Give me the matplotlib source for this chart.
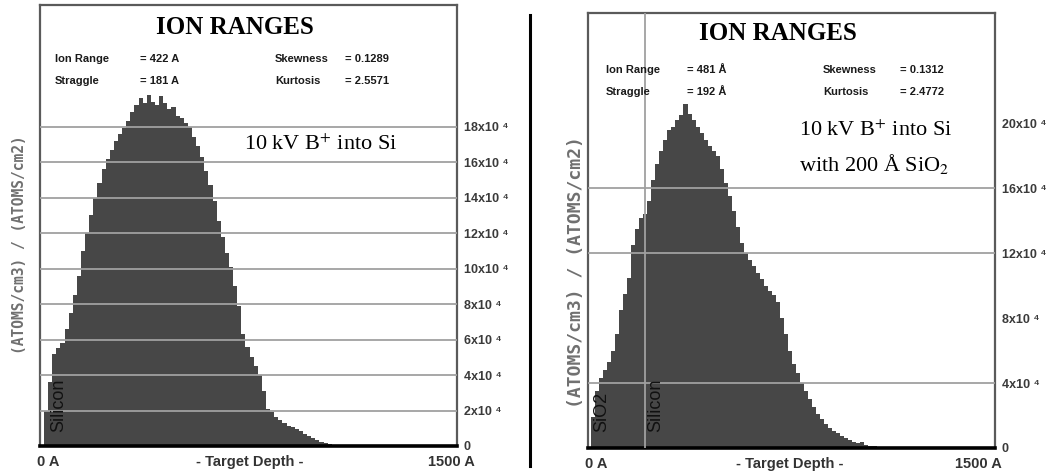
import matplotlib
matplotlib.use("Agg")
import matplotlib.pyplot as plt
import numpy as np

W, H = 1063, 471
plt.rcParams["mathtext.fontset"] = "stix"

# depth bins (Angstrom), 100 bins of 15 A each
bin_width = 15
bin_edges = np.arange(100) * bin_width

# boron in bare silicon, (atoms/cm3)/(atoms/cm2) in units of 1e4
si_profile = [
    2.0, 3.6, 5.2, 5.5, 5.8, 6.6, 7.5, 8.5, 9.6, 11.0,
    12.0, 13.0, 14.0, 14.8, 15.6, 16.2, 16.7, 17.2, 17.6, 17.9,
    18.3, 18.8, 19.2, 19.6, 19.3, 19.8, 19.4, 19.2, 19.7, 19.3,
    19.0, 19.1, 18.6, 18.5, 18.2, 18.0, 17.4, 16.9, 16.3, 15.5,
    14.7, 13.8, 12.7, 11.8, 10.9, 10.1, 9.0, 7.9, 6.3, 5.6,
    5.0, 4.5, 4.0, 3.1, 2.1, 1.9, 1.65, 1.45, 1.3, 1.15,
    1.05, 0.95, 0.85, 0.7, 0.55, 0.45, 0.35, 0.25, 0.18, 0.12,
    0.08,
] + [0.0] * 29

# boron through 200 A of oxide into silicon
oxide_profile = [
    1.9, 3.5, 4.3, 4.8, 5.3, 6.0, 7.0, 8.5, 9.5, 10.5,
    12.5, 13.5, 14.2, 14.4, 15.2, 16.5, 17.5, 18.3, 19.0, 19.6,
    19.8, 20.2, 20.5, 21.2, 20.6, 20.2, 19.8, 19.4, 19.0, 18.6,
    18.3, 18.0, 17.2, 16.3, 15.5, 14.6, 13.6, 12.6, 12.0, 11.6,
    11.2, 10.8, 10.4, 10.0, 9.7, 9.4, 9.0, 8.0, 7.0, 6.0,
    5.2, 4.6, 4.0, 3.5, 3.0, 2.5, 2.1, 1.8, 1.5, 1.25,
    1.05, 0.9, 0.75, 0.6, 0.5, 0.4, 0.3, 0.35, 0.2, 0.15,
    0.1,
] + [0.0] * 29

si_ticks = [0, 2, 4, 6, 8, 10, 12, 14, 16, 18]
si_grid = [2, 4, 6, 8, 10, 12, 14, 16, 18]
oxide_ticks = [0, 4, 8, 12, 16, 20]
oxide_grid = [4, 12, 16]
oxide_boundary = 200

si_stats = [("Ion Range", "= 422 A"), ("Straggle", "= 181 A"),
            ("Skewness", "= 0.1289"), ("Kurtosis", "= 2.5571")]
oxide_stats = [("Ion Range", "= 481 Å"), ("Straggle", "= 192 Å"),
               ("Skewness", "= 0.1312"), ("Kurtosis", "= 2.4772")]

FILL = "#474747"
FRAME = "#5a5a5a"
GRID = "#a0a0a0"
SANS = ["Liberation Sans", "DejaVu Sans"]
SERIF = ["Liberation Serif", "DejaVu Serif"]


def box(x0, y0, x1, y1):
    return [x0 / W, 1 - y1 / H, (x1 - x0) / W, (y1 - y0) / H]


def ftext(x, y, s, **kw):
    fig.text(x / W, 1 - y / H, s, **kw)


fig = plt.figure(figsize=(W / 100, H / 100), dpi=100)


def panel(rect, xlim, ylim, profile, ticks, grid):
    ax = fig.add_axes(rect)
    ax.bar(bin_edges, profile, width=bin_width, align="edge",
           color=FILL, linewidth=0, zorder=1)
    for g in grid:
        ax.axhline(g, color=GRID, lw=1.3, zorder=3)
    ax.set_xlim(*xlim)
    ax.set_ylim(*ylim)
    ax.set_xticks([])
    ax.yaxis.tick_right()
    labels = ["0"] + [f"{t}x10 ⁴" for t in ticks[1:]]
    ax.set_yticks(ticks, labels)
    ax.tick_params(axis="y", length=0, pad=5, labelsize=9,
                   labelcolor="#3a3a3a")
    for lab in ax.get_yticklabels():
        lab.set_family(SANS)
        lab.set_fontweight("bold")
    for side in ("top", "left", "right"):
        ax.spines[side].set_color(FRAME)
        ax.spines[side].set_linewidth(1.6)
    ax.spines["bottom"].set_color("black")
    ax.spines["bottom"].set_linewidth(2.6)
    return ax


ax1 = panel(box(40, 5, 457, 446), (-14.6, 1507), (0, 24.85),
            si_profile, si_ticks, si_grid)
ax2 = panel(box(588, 13, 995, 448), (-11.2, 1507), (0, 26.8),
            oxide_profile, oxide_ticks, oxide_grid)
ax2.axvline(oxide_boundary, color=GRID, lw=1.3, zorder=3)

# layer names along the left edge
layer_kw = dict(rotation=90, fontsize=13, family=SANS, ha="center",
                va="bottom", zorder=4, color="#111111")
ax1.text(52, 0.8, "Silicon", **layer_kw)
ax2.text(40, 1.0, "SiO2", **layer_kw)
ax2.text(oxide_boundary + 42, 1.0, "Silicon", **layer_kw)

# titles and summary statistics
ftext(235, 27, "ION RANGES", fontsize=18, family=SERIF, weight="bold",
      ha="center", va="center")
ftext(778, 34, "ION RANGES", fontsize=18, family=SERIF, weight="bold",
      ha="center", va="center")

stat_kw = dict(fontsize=8, family=SANS, weight="bold", va="center",
               color="#1a1a1a")
for (name, val), (x, y) in zip(si_stats, [(55, 59), (55, 81), (275, 59), (275, 81)]):
    ftext(x, y, name, **stat_kw)
    ftext(x + (85 if x < 200 else 70), y, val, **stat_kw)
for (name, val), (x, y) in zip(oxide_stats, [(606, 70), (606, 92), (823, 70), (823, 92)]):
    ftext(x, y, name, **stat_kw)
    ftext(x + (81 if x < 700 else 77), y, val, **stat_kw)

# implant conditions
ftext(244, 145, r"10 kV B$^{+}$ into Si", fontsize=16, family=SERIF,
      va="center")
ftext(799, 131, r"10 kV B$^{+}$ into Si", fontsize=16, family=SERIF,
      va="center")
ftext(799, 164, r"with 200 Å SiO$_{2}$", fontsize=16, family=SERIF,
      va="center")

# y-axis captions
ylab = "(ATOMS/cm3) / (ATOMS/cm2)"
ftext(20, 245, ylab, rotation=90, fontsize=10.5, family="DejaVu Sans Mono",
      color="#707070", ha="center", va="center", weight="bold")
ftext(576, 272, ylab, rotation=90, fontsize=13, family="DejaVu Sans Mono",
      color="#707070", ha="center", va="center", weight="bold")

# x-axis captions
xl_kw = dict(fontsize=10.5, family=SANS, weight="bold", color="#333333",
             va="center")
ftext(37, 462, "0 A", **xl_kw)
ftext(250, 462, "- Target Depth -", ha="center", **xl_kw)
ftext(428, 462, "1500 A", **xl_kw)
ftext(585, 464, "0 A", **xl_kw)
ftext(790, 464, "- Target Depth -", ha="center", **xl_kw)
ftext(955, 464, "1500 A", **xl_kw)

# divider between the two runs
fig.add_artist(plt.Line2D([530 / W, 530 / W], [1 - 15 / H, 1 - 466 / H],
                          color="black", lw=2.2))

fig.savefig("out.png", dpi=100)
